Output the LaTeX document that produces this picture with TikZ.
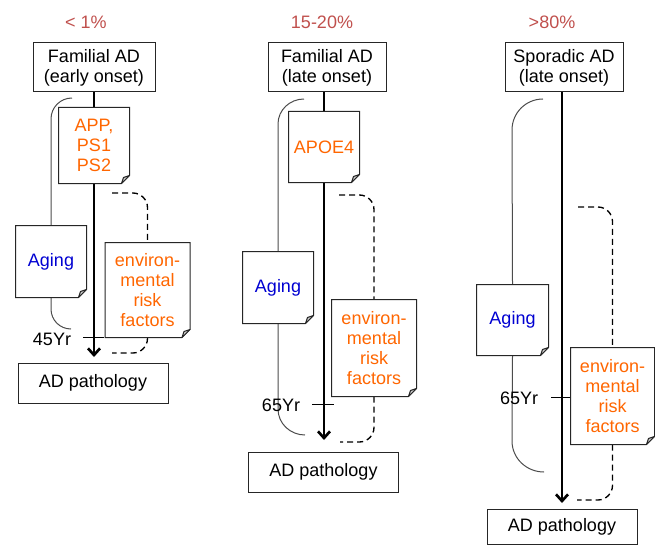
\documentclass[tikz,border=0pt]{standalone}
\usepackage{fontspec}
\setmainfont{Liberation Sans}
\usetikzlibrary{arrows.meta,backgrounds,calc}

\definecolor{pctred}{RGB}{192,80,77}
\definecolor{riskorange}{RGB}{255,102,0}
\definecolor{agingblue}{RGB}{0,0,210}

\tikzset{every picture/.style={line width=0.75pt}}
\tikzset{
  labelfont/.style={font=\fontsize{13.5}{15}\selectfont},
  pct/.style={labelfont, text=pctred, inner sep=0.75pt},
  stagebox/.style={labelfont, draw=black!85, fill=white, inner sep=0pt, align=center},
  notebox/.style={labelfont, fill=white, inner sep=0pt, align=center},
  yrlabel/.style={labelfont, inner sep=0.75pt},
  mainarrow/.style={line width=2pt, -{Straight Barb[length=5pt,width=9pt]}},
  agebrace/.style={draw=black!70, line width=0.75pt},
  envbrace/.style={line width=1pt, dash pattern=on 4.5pt off 3pt, rounded corners=11pt},
  yrtick/.style={line width=0.75pt}
}

% folded corner outline round a note node
\newcommand{\foldnote}[1]{%
  \draw [black!85] (#1.north west) -- (#1.north east) -- ($(#1.south east)+(0,-8)$) -- ($(#1.south east)+(-8,0)$) -- (#1.south west) -- cycle;
  \draw [black!85, fill=black!20, line join=round] ($(#1.south east)+(0,-8)$) -- ($(#1.south east)+(-8,0)$) -- ($(#1.south east)+(-6,-6)$) -- cycle;
}

\begin{document}
\begin{tikzpicture}[x=0.75pt,y=0.75pt,yscale=-1,xscale=1]
\useasboundingbox (0,0) rectangle (655,545);

% Text Node
\node (pcta) [pct] at (86,22) {< 1\%};
% Text Node
\node (pctb) [pct] at (322,22) {15-20\%};
% Text Node
\node (pctc) [pct] at (552,22) {>80\%};

%Shape: Rectangle
\node (onseta) [stagebox, minimum width=91.5pt, minimum height=36.75pt] at (94,67.5) {Familial AD\\(early onset)};
%Shape: Rectangle
\node (onsetb) [stagebox, minimum width=88.5pt, minimum height=36.75pt] at (327,67.5) {Familial AD\\(late onset)};
%Shape: Rectangle
\node (onsetc) [stagebox, minimum width=88.5pt, minimum height=36.75pt] at (564,67.5) {Sporadic AD\\(late onset)};

%Shape: Rectangle
\node (patha) [stagebox, minimum width=112.5pt, minimum height=30pt] at (93,383) {AD pathology};
%Shape: Rectangle
\node (pathb) [stagebox, minimum width=112.5pt, minimum height=30pt] at (323.5,472) {AD pathology};
%Shape: Rectangle
\node (pathc) [stagebox, minimum width=112.5pt, minimum height=26.25pt] at (562,527) {AD pathology};

% Notes
\node (genea) [notebox, text=riskorange, minimum width=52.5pt, minimum height=56.25pt] at (94,145.5) {APP,\\PS1\\PS2};
\foldnote{genea}
\node (geneb) [notebox, text=riskorange, minimum width=52.5pt, minimum height=52.5pt] at (324,147) {APOE4};
\foldnote{geneb}

\node (aginga) [notebox, text=agingblue, minimum width=52.5pt, minimum height=53.25pt] at (51,261.5) {Aging};
\foldnote{aginga}
\node (agingb) [notebox, text=agingblue, minimum width=52.5pt, minimum height=53.25pt] at (278,287.5) {Aging};
\foldnote{agingb}
\node (agingc) [notebox, text=agingblue, minimum width=53.25pt, minimum height=52.5pt] at (512.5,320) {Aging};
\foldnote{agingc}

\node (enva) [notebox, text=riskorange, minimum width=63pt, minimum height=70.5pt] at (147.5,290) {environ-\\mental\\risk\\factors};
\foldnote{enva}
\node (envb) [notebox, text=riskorange, minimum width=63pt, minimum height=72pt] at (374,348) {environ-\\mental\\risk\\factors};
\foldnote{envb}
\node (envc) [notebox, text=riskorange, minimum width=62.25pt, minimum height=72pt] at (612.5,396) {environ-\\mental\\risk\\factors};
\foldnote{envc}

% Text Node
\node (yra) [yrlabel] at (52,339) {45Yr};
% Text Node
\node (yrb) [yrlabel] at (281,405) {65Yr};
% Text Node
\node (yrc) [yrlabel] at (519,398) {65Yr};

\coordinate (tipa) at (94,357);
\coordinate (tipb) at (324,440);
\coordinate (tipc) at (562,503);
\coordinate (agestarta) at (72,98);
\coordinate (agestartb) at (304,99);
\coordinate (agestartc) at (543,99);
\coordinate (agetopa) at (51,119);
\coordinate (agetopb) at (278,124);
\coordinate (agetopc) at (512,130);
\coordinate (agelowa) at (51,309);
\coordinate (agelowb) at (278,409);
\coordinate (agelowc) at (512,441);
\coordinate (ageenda) at (71,329);
\coordinate (ageendb) at (305,435);
\coordinate (ageendc) at (544,472);
\coordinate (envstarta) at (112,193);
\coordinate (envstartb) at (339,195);
\coordinate (envstartc) at (578,207);
\coordinate (envenda) at (112,353);
\coordinate (envendb) at (340,442);
\coordinate (envendc) at (577,500);
\coordinate (tickla) at (83,337);
\coordinate (tickra) at (104,337);
\coordinate (ticklb) at (312,404);
\coordinate (tickrb) at (334,404);
\coordinate (ticklc) at (551,397);
\coordinate (tickrc) at (572,397);

\begin{pgfonlayer}{background}
%Straight Lines
\draw [mainarrow] (onseta.south -| tipa) -- (tipa);
\draw [mainarrow] (onsetb.south -| tipb) -- (tipb);
\draw [mainarrow] (onsetc.south -| tipc) -- (tipc);
%Curve Lines
\draw [agebrace] (agestarta) to[out=180,in=270] (agetopa) -- (aginga.north);
\draw [agebrace] (aginga.south) -- (agelowa) to[out=90,in=180] (ageenda);
\draw [agebrace] (agestartb) to[out=180,in=270] (agetopb) -- (agingb.north);
\draw [agebrace] (agingb.south) -- (agelowb) to[out=90,in=180] (ageendb);
\draw [agebrace] (agestartc) to[out=180,in=270] (agetopc) -- (agingc.north);
\draw [agebrace] (agingc.south) -- (agelowc) to[out=90,in=180] (ageendc);
%Curve Lines
\draw [envbrace] (envstarta) -| (enva.north);
\draw [envbrace] (enva.south) |- (envenda);
\draw [envbrace] (envstartb) -| (envb.north);
\draw [envbrace] (envb.south) |- (envendb);
\draw [envbrace] (envstartc) -| (envc.north);
\draw [envbrace] (envc.south) |- (envendc);
%Straight Lines
\draw [yrtick] (tickla) -- (tickra);
\draw [yrtick] (ticklb) -- (tickrb);
\draw [yrtick] (ticklc) -- (tickrc);
\end{pgfonlayer}

\end{tikzpicture}
\end{document}
